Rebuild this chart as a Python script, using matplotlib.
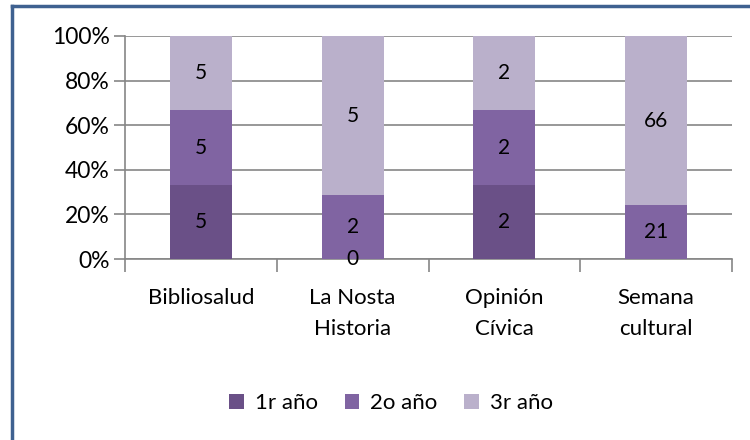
import matplotlib.pyplot as plt
import numpy as np
from matplotlib.lines import Line2D

plt.rcParams['font.family'] = ['Lato', 'DejaVu Sans']

categories = ['Bibliosalud', 'La Nosta\nHistoria', 'Opinión\nCívica', 'Semana\ncultural']
series = ['1r año', '2o año', '3r año']
primero = [5, 0, 2, np.nan]
segundo = [5, 2, 2, 21]
tercero = [5, 5, 2, 66]
colors = ['#6A5087', '#8064A2', '#BAB0CB']

data = np.array([primero, segundo, tercero], dtype=float)
vals = np.nan_to_num(data)
totals = vals.sum(axis=0)
pct = vals / totals * 100

fig = plt.figure(figsize=(7.5, 4.4), dpi=100)
ax = fig.add_axes([125/750, 1-259/440, 607/750, 223/440])

x = np.arange(len(categories))
bottom = np.zeros(len(categories))
for i, name in enumerate(series):
    ax.bar(x, pct[i], 0.41, bottom=bottom, color=colors[i], label=name, zorder=3)
    for j in range(len(categories)):
        if np.isnan(data[i, j]):
            continue
        yc = bottom[j] + pct[i, j] / 2
        ax.text(x[j], yc, '%d' % data[i, j], ha='center', va='center',
                fontsize=15, color='black', zorder=4)
    bottom += pct[i]

ax.set_xlim(-0.5, len(categories) - 0.5)
ax.set_ylim(0, 100)
ax.set_yticks([0, 20, 40, 60, 80, 100])
ax.set_yticklabels(['0%', '20%', '40%', '60%', '80%', '100%'], fontsize=16.5)
ax.yaxis.grid(True, color='#868686', linewidth=1.2, zorder=0)
ax.set_xticks(x)
ax.set_xticklabels(categories, fontsize=16, linespacing=1.7)
ax.set_xticks(np.arange(-0.5, len(categories)), minor=True)
ax.tick_params(axis='x', which='major', length=0, pad=21)
ax.tick_params(axis='x', which='minor', length=9, color='#868686', width=1.2)
ax.tick_params(axis='y', length=8, color='#868686', width=1.2, pad=3)
for s in ['top', 'right']:
    ax.spines[s].set_visible(False)
for s in ['left', 'bottom']:
    ax.spines[s].set_color('#868686')
    ax.spines[s].set_linewidth(1.2)

ax.legend(loc='center', bbox_to_anchor=(391/750, 1-403/440), bbox_transform=fig.transFigure,
          ncol=3, frameon=False, fontsize=16, handlelength=0.65, handleheight=0.65,
          handletextpad=0.5, columnspacing=1.2)

fig.add_artist(Line2D([12/750, 12/750], [0, 1-6/440], color='#3F6190', linewidth=2.5,
                      transform=fig.transFigure))
fig.add_artist(Line2D([12/750, 1], [1-6/440, 1-6/440], color='#3F6190', linewidth=2.5,
                      transform=fig.transFigure))

fig.savefig('out.png', dpi=100)
